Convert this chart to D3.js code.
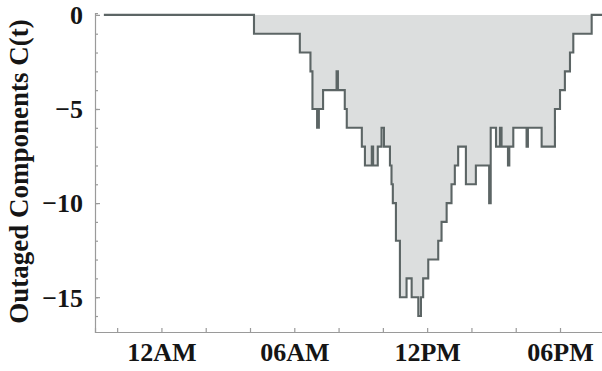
<!DOCTYPE html>
<html>
<head>
<meta charset="utf-8">
<script src="https://cdn.jsdelivr.net/npm/d3@7"></script>
<style>
  html, body { margin: 0; padding: 0; background: #fff; }
  svg { display: block; }
  text { font-family: "Liberation Serif", "Times New Roman", serif; font-weight: bold; fill: #151515; }
</style>
</head>
<body>
<svg id="chart" width="602" height="371"></svg>
<script>
// Outage event times (hours from midnight; negative = previous evening)
const stepHours = [
  -2.6, 4.18, 6.25, 6.73, 6.82, 7.03, 7.11, 7.30, 7.91, 7.97,
  8.28, 8.37, 9.05, 9.19, 9.50, 9.56, 9.77, 9.94, 10.05, 10.32,
  10.39, 10.45, 10.59, 10.77, 11.07, 11.30, 11.60, 11.72, 11.82, 12.05,
  12.50, 12.65, 12.88, 13.10, 13.25, 13.40, 13.75, 14.20, 14.80, 14.87,
  15.11, 15.29, 15.36, 15.65, 15.71, 15.89, 16.49, 16.55, 17.17, 17.77,
  18.00, 18.22, 18.45, 18.60, 19.43, 20.0
];
// C(t): negative count of outaged components, held from each event time
const outaged = [
  0, -1, -2, -3, -5, -6, -5, -4, -3, -4,
  -5, -6, -7, -8, -7, -8, -7, -6, -7, -8,
  -9, -10, -12, -15, -14, -15, -16, -15, -14, -13,
  -12, -11, -10, -9, -8, -7, -9, -8, -10, -6,
  -7, -6, -7, -8, -7, -6, -7, -6, -7, -5,
  -4, -3, -2, -1, 0, 0
];
const timeTicks = [0, 6, 12, 18];
const timeLabels = ["12AM", "06AM", "12PM", "06PM"];
const minorTimeTicks = [-2, 0, 2, 4, 6, 8, 10, 12, 14, 16, 18, 20];
const valueTicks = [0, -5, -10, -15];
const minorValueTicks = d3.range(0, -17, -1);

const data = stepHours.map((h, i) => ({ h, c: outaged[i] }));

const svg = d3.select("#chart");
const plotLeft = 95, plotRight = 604.3, plotTop = 13, plotBottom = 332;

const x = d3.scaleLinear().domain([-3, 20]).range([plotLeft, plotRight]);
const y = d3.scaleLinear().domain([-16.85, 0.1]).range([plotBottom, plotTop]);

const axisColor = "#9a9a9a";

// filled region between zero and C(t)
const area = d3.area()
  .curve(d3.curveStepAfter)
  .x(d => x(d.h))
  .y0(y(0))
  .y1(d => y(d.c));

svg.append("path")
  .datum(data)
  .attr("d", area)
  .attr("fill", "#dcdede");

const line = d3.line()
  .curve(d3.curveStepAfter)
  .x(d => x(d.h))
  .y(d => y(d.c));

svg.append("path")
  .datum(data)
  .attr("d", line)
  .attr("fill", "none")
  .attr("stroke", "#5c6565")
  .attr("stroke-width", 2.1);

// x axis: minor ticks, then labels
const gx = svg.append("g").attr("transform", `translate(0,${plotBottom})`);
gx.call(d3.axisBottom(x).tickValues(minorTimeTicks).tickSize(-4).tickFormat(""));
const gxl = svg.append("g").attr("transform", `translate(0,${plotBottom})`);
gxl.call(d3.axisBottom(x).tickValues(timeTicks).tickSize(0).tickPadding(11)
  .tickFormat((d, i) => timeLabels[i]));
gxl.select(".domain").remove();
gxl.selectAll("text").style("font-size", "26px").attr("font-family", null);

// y axis: minor and major ticks, then labels
const gy = svg.append("g").attr("transform", `translate(${plotLeft},0)`);
gy.call(d3.axisLeft(y).tickValues(minorValueTicks).tickSize(-3).tickFormat(""));
const gym = svg.append("g").attr("transform", `translate(${plotLeft},0)`);
gym.call(d3.axisLeft(y).tickValues(valueTicks).tickSize(-5).tickPadding(12)
  .tickFormat(d3.format("d")));
gym.select(".domain").remove();
gym.selectAll("text").style("font-size", "26px").attr("font-family", null)
  .attr("dy", "0.34em");

svg.selectAll(".domain, .tick line").attr("stroke", axisColor).attr("stroke-width", 1.2);

// y axis title
svg.append("text")
  .attr("transform", `translate(28,${(plotTop + plotBottom) / 2 - 1}) rotate(-90)`)
  .attr("text-anchor", "middle")
  .style("font-size", "27px")
  .text("Outaged Components C(t)");
</script>
</body>
</html>
